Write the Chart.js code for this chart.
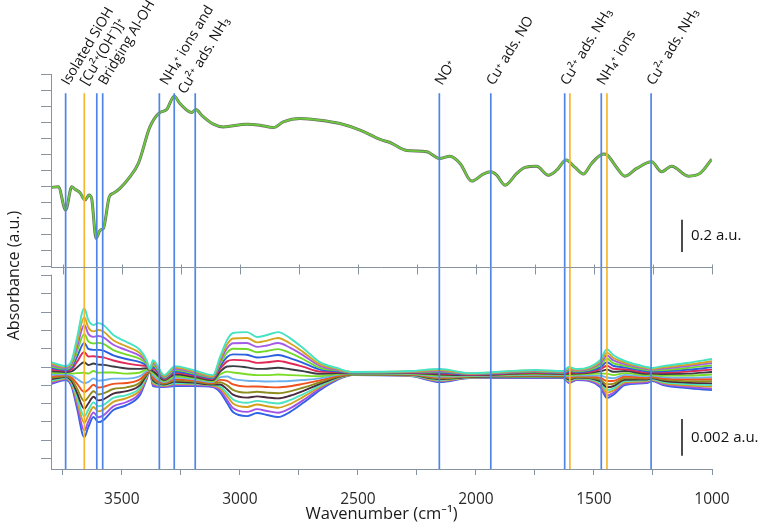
<!DOCTYPE html>
<html><head><meta charset="utf-8">
<script src="https://cdn.jsdelivr.net/npm/chart.js@4.4.1/dist/chart.umd.min.js"></script>
<style>html,body{margin:0;padding:0;background:#fff;}canvas{display:block}</style>
</head><body>
<canvas id="c" width="767" height="524" style="width:767px;height:524px"></canvas>
<script>
const FONT = "'Open Sans','Noto Sans','DejaVu Sans',sans-serif";

// ---------- tick values ----------
const xTickValues = [3750,3500,3250,3000,2750,2500,2250,2000,1750,1500,1250,1000];
const xLabelValues = [3500,3000,2500,2000,1500,1000];
const topTickValues = [0,0.1,0.2,0.3,0.4,0.5,0.6,0.7,0.8,0.9,1.0,1.1,1.2];
const botTickValues = [-5,-4,-3,-2,-1,0,1,2,3,4,5];

// ---------- top panel: absorbance spectrum (a.u.) ----------
const topWavenumbers = [3800,3769,3738,3712,3698,3677,3656,3639,3628,3609,3592,3578,3553,3536,3508,3466,3430,3381,3341,3310,3278,3254,3204,3186,3162,3112,3070,2971,2915,2858,2816,2745,2661,2576,2491,2406,2364,2293,2209,2155,2110,2067,2018,1969,1937,1912,1877,1827,1792,1743,1693,1658,1618,1580,1545,1510,1460,1444,1404,1369,1319,1256,1213,1171,1100,1051,1001];
const topAbsorbance = [0.495,0.499,0.354,0.499,0.483,0.462,0.416,0.447,0.426,0.178,0.229,0.240,0.437,0.458,0.489,0.561,0.644,0.871,0.958,0.979,1.062,1.017,0.961,0.979,0.944,0.888,0.871,0.888,0.882,0.867,0.902,0.923,0.913,0.892,0.851,0.793,0.774,0.724,0.717,0.675,0.689,0.644,0.534,0.578,0.592,0.571,0.509,0.582,0.619,0.627,0.571,0.602,0.665,0.619,0.578,0.644,0.702,0.696,0.619,0.565,0.613,0.654,0.592,0.627,0.565,0.582,0.670];

// ---------- bottom panel: difference spectra (10^-3 a.u.) ----------
const diffWavenumbers = [3800,3736,3712,3690,3659,3642,3620,3600,3578,3536,3480,3423,3395,3381,3368,3320,3275,3198,3114,3084,3054,3029,2970,2927,2885,2838,2788,2733,2661,2589,2521,2279,2152,2025,1750,1631,1606,1572,1474,1445,1419,1369,1276,1254,1207,1106,1000];
const diff01 = [0.27,0.05,0.38,1.58,3.22,2.57,2.30,2.40,2.30,1.75,1.37,0.93,0.38,-0.11,0.38,-0.44,0.05,-0.16,-0.44,0.55,1.48,1.86,1.91,1.64,1.75,1.91,1.58,1.04,0.27,-0.05,-0.27,-0.22,-0.11,-0.33,-0.16,-0.22,0.00,-0.11,0.38,0.98,0.66,0.33,0.00,-0.05,0.05,0.22,0.44];
const diff02 = [0.19,0.00,0.28,1.31,2.73,2.16,1.95,2.02,1.94,1.46,1.13,0.76,0.31,-0.12,0.28,-0.49,-0.03,-0.22,-0.49,0.42,1.24,1.56,1.59,1.35,1.44,1.59,1.30,0.83,0.16,-0.10,-0.28,-0.24,-0.16,-0.35,-0.19,-0.25,-0.06,-0.15,0.28,0.79,0.51,0.24,-0.06,-0.10,-0.02,0.12,0.32];
const diff03 = [0.11,-0.05,0.19,1.08,2.30,1.81,1.65,1.70,1.62,1.22,0.92,0.61,0.25,-0.12,0.20,-0.53,-0.09,-0.27,-0.53,0.30,1.03,1.30,1.31,1.10,1.18,1.31,1.06,0.65,0.07,-0.14,-0.29,-0.26,-0.20,-0.37,-0.22,-0.27,-0.11,-0.19,0.19,0.63,0.38,0.16,-0.11,-0.14,-0.08,0.04,0.22];
const diff04 = [0.03,-0.10,0.09,0.82,1.81,1.40,1.29,1.32,1.26,0.93,0.68,0.44,0.17,-0.13,0.10,-0.57,-0.17,-0.34,-0.57,0.17,0.79,1.00,0.99,0.81,0.88,0.98,0.77,0.44,-0.04,-0.18,-0.30,-0.27,-0.25,-0.38,-0.25,-0.30,-0.17,-0.23,0.09,0.45,0.22,0.07,-0.17,-0.19,-0.16,-0.05,0.10];
const diff05 = [-0.05,-0.16,-0.02,0.55,1.32,0.99,0.94,0.94,0.90,0.64,0.44,0.27,0.10,-0.14,0.00,-0.62,-0.24,-0.40,-0.62,0.03,0.55,0.69,0.67,0.52,0.57,0.66,0.49,0.23,-0.14,-0.23,-0.32,-0.29,-0.30,-0.40,-0.28,-0.32,-0.23,-0.27,-0.02,0.26,0.07,-0.02,-0.23,-0.24,-0.23,-0.15,-0.02];
const diff06 = [-0.14,-0.21,-0.12,0.28,0.82,0.58,0.59,0.56,0.53,0.36,0.20,0.09,0.03,-0.15,-0.10,-0.66,-0.32,-0.46,-0.66,-0.10,0.31,0.39,0.35,0.23,0.26,0.33,0.21,0.02,-0.25,-0.27,-0.33,-0.31,-0.35,-0.42,-0.31,-0.35,-0.30,-0.31,-0.12,0.07,-0.09,-0.12,-0.30,-0.29,-0.30,-0.25,-0.14];
const diff07 = [-0.23,-0.27,-0.24,-0.02,0.26,0.11,0.19,0.13,0.12,0.03,-0.08,-0.10,-0.06,-0.16,-0.22,-0.71,-0.41,-0.53,-0.71,-0.26,0.03,0.05,-0.02,-0.10,-0.09,-0.04,-0.12,-0.22,-0.37,-0.33,-0.34,-0.33,-0.41,-0.44,-0.34,-0.38,-0.37,-0.36,-0.24,-0.14,-0.26,-0.22,-0.37,-0.35,-0.38,-0.36,-0.27];
const diff08 = [-0.33,-0.33,-0.36,-0.33,-0.31,-0.36,-0.22,-0.31,-0.30,-0.30,-0.36,-0.30,-0.14,-0.17,-0.33,-0.77,-0.50,-0.60,-0.77,-0.41,-0.25,-0.30,-0.39,-0.44,-0.44,-0.41,-0.44,-0.47,-0.50,-0.38,-0.36,-0.36,-0.47,-0.47,-0.38,-0.41,-0.44,-0.41,-0.36,-0.36,-0.44,-0.33,-0.44,-0.41,-0.47,-0.47,-0.41];
const diff09 = [-0.43,-0.39,-0.47,-0.64,-0.87,-0.82,-0.62,-0.74,-0.72,-0.63,-0.63,-0.50,-0.22,-0.17,-0.44,-0.82,-0.58,-0.67,-0.82,-0.56,-0.52,-0.65,-0.75,-0.77,-0.79,-0.78,-0.76,-0.71,-0.62,-0.43,-0.37,-0.38,-0.52,-0.49,-0.42,-0.44,-0.50,-0.46,-0.47,-0.57,-0.61,-0.43,-0.50,-0.47,-0.55,-0.58,-0.55];
const diff10 = [-0.51,-0.44,-0.58,-0.90,-1.36,-1.23,-0.97,-1.12,-1.08,-0.92,-0.87,-0.67,-0.30,-0.18,-0.54,-0.86,-0.66,-0.73,-0.86,-0.70,-0.76,-0.95,-1.07,-1.06,-1.09,-1.11,-1.05,-0.92,-0.73,-0.48,-0.38,-0.40,-0.57,-0.51,-0.45,-0.47,-0.57,-0.50,-0.58,-0.76,-0.76,-0.52,-0.57,-0.52,-0.62,-0.67,-0.67];
const diff11 = [-0.59,-0.50,-0.68,-1.17,-1.86,-1.64,-1.32,-1.50,-1.44,-1.20,-1.11,-0.84,-0.37,-0.19,-0.64,-0.91,-0.74,-0.79,-0.91,-0.83,-1.00,-1.25,-1.40,-1.35,-1.40,-1.43,-1.33,-1.13,-0.83,-0.53,-0.39,-0.41,-0.62,-0.52,-0.48,-0.49,-0.63,-0.54,-0.68,-0.94,-0.92,-0.61,-0.63,-0.57,-0.69,-0.77,-0.78];
const diff12 = [-0.67,-0.54,-0.77,-1.40,-2.28,-1.99,-1.62,-1.82,-1.76,-1.45,-1.32,-0.99,-0.43,-0.20,-0.73,-0.95,-0.80,-0.85,-0.95,-0.95,-1.21,-1.51,-1.67,-1.60,-1.66,-1.71,-1.57,-1.31,-0.92,-0.57,-0.40,-0.43,-0.66,-0.54,-0.50,-0.52,-0.68,-0.58,-0.77,-1.10,-1.05,-0.69,-0.68,-0.61,-0.75,-0.85,-0.89];
const diff13 = [-0.74,-0.59,-0.86,-1.63,-2.70,-2.34,-1.93,-2.14,-2.07,-1.69,-1.53,-1.14,-0.49,-0.20,-0.81,-0.99,-0.87,-0.90,-0.99,-1.06,-1.42,-1.77,-1.95,-1.85,-1.92,-1.99,-1.81,-1.49,-1.02,-0.60,-0.41,-0.45,-0.71,-0.56,-0.53,-0.54,-0.73,-0.61,-0.86,-1.26,-1.18,-0.77,-0.73,-0.65,-0.82,-0.93,-0.99];
const diff14 = [-0.80,-0.63,-0.93,-1.82,-3.06,-2.64,-2.18,-2.42,-2.33,-1.90,-1.70,-1.26,-0.55,-0.21,-0.88,-1.02,-0.92,-0.94,-1.02,-1.16,-1.59,-1.99,-2.18,-2.05,-2.14,-2.22,-2.02,-1.64,-1.09,-0.64,-0.42,-0.46,-0.74,-0.57,-0.55,-0.56,-0.77,-0.64,-0.93,-1.40,-1.29,-0.84,-0.77,-0.69,-0.87,-1.00,-1.07];
const diff15 = [-0.87,-0.67,-1.02,-2.05,-3.48,-2.99,-2.48,-2.74,-2.64,-2.15,-1.91,-1.41,-0.61,-0.21,-0.97,-1.06,-0.99,-1.00,-1.06,-1.27,-1.80,-2.24,-2.45,-2.30,-2.40,-2.50,-2.26,-1.82,-1.18,-0.68,-0.43,-0.48,-0.78,-0.59,-0.58,-0.58,-0.83,-0.68,-1.02,-1.56,-1.42,-0.92,-0.83,-0.73,-0.93,-1.08,-1.18];
const diff16 = [-0.93,-0.71,-1.09,-2.24,-3.83,-3.28,-2.73,-3.01,-2.90,-2.35,-2.08,-1.53,-0.66,-0.22,-1.04,-1.09,-1.04,-1.04,-1.09,-1.37,-1.97,-2.46,-2.68,-2.51,-2.62,-2.73,-2.46,-1.97,-1.26,-0.71,-0.44,-0.49,-0.82,-0.60,-0.60,-0.60,-0.87,-0.71,-1.09,-1.69,-1.53,-0.98,-0.87,-0.77,-0.98,-1.15,-1.26];
const diffSeries = [diff01,diff02,diff03,diff04,diff05,diff06,diff07,diff08,diff09,diff10,diff11,diff12,diff13,diff14,diff15,diff16];
const diffColors = ['#45e2c4','#d6a51f','#a45be6','#72d82a','#2c5fe0','#df2a55','#3a3d44','#7bdc26','#6db2ef','#ef521f','#8e8b1f','#4b2b3e','#4be4c2','#d3a01d','#a153e6','#2f63e5'];

// ---------- band assignments ----------
const bandWavenumbers = [3738,3659,3606,3581,3341,3278,3189,2155,1937,1624,1602,1469,1445,1258];
const bandKinds = ['b','o','b','b','b','b','b','b','b','b','o','b','o','b'];
const bandLabels = ['Isolated SiOH','[Cu²⁺(OH⁻)]⁺','Bridging Al-OH','NH₄⁺ ions and','Cu²⁺ ads. NH₃','NO⁺','Cu⁺ ads. NO','Cu²⁺ ads. NH₃','NH₄⁺ ions','Cu²⁺ ads. NH₃'];
const bandLabelWavenumbers = [3738,3659,3581,3320,3320,2155,1937,1624,1469,1258];
const bandLabelRow = [0,0,0,0,1,0,0,0,0,0];

const BLUE = '#4f86e6', ORANGE = '#f6b631', AXIS = '#8794a0';
const LABEL_ANGLE = 59 * Math.PI / 180;

Chart.defaults.font.family = FONT;

const datasets = [];
datasets.push({ label:'spectrum', data: topWavenumbers.map((w,i)=>({x:w,y:topAbsorbance[i]})), yAxisID:'yTop',
  borderColor:'#6cc83c', borderWidth:1.9, order:0 });
datasets.push({ label:'spectrum-outline', data: topWavenumbers.map((w,i)=>({x:w,y:topAbsorbance[i]})), yAxisID:'yTop',
  borderColor:'#666666', borderWidth:3.0, order:1 });
diffSeries.forEach((vals,k)=>{
  datasets.push({ label:'diff'+(k+1), data: diffWavenumbers.map((w,i)=>({x:w,y:vals[i]})), yAxisID:'yBot',
    borderColor: diffColors[k], borderWidth:1.9, order:2 });
});

const overlay = {
  id:'overlay',
  afterDatasetsDraw(chart){
    const {ctx, chartArea:ca, scales} = chart;
    const x = scales.x, yT = scales.yTop, yB = scales.yBot;
    ctx.save();
    // band lines
    const yStart = yT.getPixelForValue(1.08);
    bandWavenumbers.forEach((w,i)=>{
      const px = x.getPixelForValue(w);
      ctx.strokeStyle = bandKinds[i]==='o' ? ORANGE : BLUE;
      ctx.lineWidth = 1.7;
      ctx.beginPath(); ctx.moveTo(px, yStart); ctx.lineTo(px, ca.bottom); ctx.stroke();
    });
    // left axis lines (two panels)
    ctx.strokeStyle = AXIS; ctx.lineWidth = 1;
    const lx = Math.round(ca.left) + 0.5;
    ctx.beginPath(); ctx.moveTo(lx, yT.getPixelForValue(1.2)); ctx.lineTo(lx, yT.getPixelForValue(0)); ctx.stroke();
    ctx.beginPath(); ctx.moveTo(lx, yB.getPixelForValue(5.05)); ctx.lineTo(lx, ca.bottom); ctx.stroke();
    // baseline of top panel with ticks
    const y0 = Math.round(yT.getPixelForValue(0)) + 0.5;
    ctx.beginPath(); ctx.moveTo(ca.left, y0); ctx.lineTo(ca.right, y0); ctx.stroke();
    xTickValues.forEach(v=>{
      const px = Math.round(x.getPixelForValue(v)) + 0.5;
      ctx.beginPath(); ctx.moveTo(px, y0-3); ctx.lineTo(px, y0+7); ctx.stroke();
    });
    // scale bars
    const bx = ca.right - 30;
    ctx.strokeStyle = '#111'; ctx.lineWidth = 1.5; ctx.fillStyle = '#111';
    ctx.font = '15px ' + FONT; ctx.textBaseline = 'middle'; ctx.textAlign = 'left';
    let a = yT.getPixelForValue(0.293), b = yT.getPixelForValue(0.093);
    ctx.beginPath(); ctx.moveTo(bx, a); ctx.lineTo(bx, b); ctx.stroke();
    ctx.fillText('0.2 a.u.', bx + 9, (a+b)/2);
    a = yB.getPixelForValue(-2.84); b = yB.getPixelForValue(-4.84);
    ctx.beginPath(); ctx.moveTo(bx, a); ctx.lineTo(bx, b); ctx.stroke();
    ctx.fillText('0.002 a.u.', bx + 9, (a+b)/2);
    // y title
    ctx.save();
    ctx.translate(14, (ca.top + ca.bottom)/2 + 4);
    ctx.rotate(-Math.PI/2);
    ctx.textAlign = 'center'; ctx.textBaseline = 'middle';
    ctx.font = '16px ' + FONT; ctx.fillStyle = '#1a1a1a';
    ctx.fillText('Absorbance (a.u.)', 0, 0);
    ctx.restore();
    // band labels
    ctx.font = '14px ' + FONT; ctx.fillStyle = '#111'; ctx.textBaseline = 'alphabetic'; ctx.textAlign = 'left';
    bandLabels.forEach((t,i)=>{
      let px = x.getPixelForValue(bandLabelWavenumbers[i]) + 3;
      let py = 86;
      if (bandLabelRow[i] === 1) { px += 21*Math.sin(LABEL_ANGLE); py += 21*Math.cos(LABEL_ANGLE) - 2; }
      ctx.save(); ctx.translate(px, py); ctx.rotate(-LABEL_ANGLE); ctx.fillText(t, 0, 0); ctx.restore();
    });
    ctx.restore();
  }
};

new Chart(document.getElementById('c'), {
  type:'line',
  data:{ datasets },
  options:{
    responsive:false, animation:false, devicePixelRatio:1,
    layout:{ padding:{ top:74, left:41, right:55, bottom:0 } },
    elements:{ point:{ radius:0 }, line:{ cubicInterpolationMode:'monotone' } },
    plugins:{ legend:{display:false}, tooltip:{enabled:false} },
    scales:{
      x:{ type:'linear', reverse:true, min:1000, max:3800, position:'bottom',
        afterBuildTicks:s=>{ s.ticks = xTickValues.map(v=>({value:v})); },
        afterFit:s=>{ s.height = 55; },
        ticks:{ autoSkip:false, maxRotation:0, padding:15, color:'#2a2a2a', font:{size:15.5},
          callback:v=> xLabelValues.includes(v) ? String(v) : '' },
        grid:{ drawOnChartArea:false, drawTicks:true, tickLength:6, color:AXIS },
        border:{ color:AXIS, width:1 },
        title:{ display:true, text:'Wavenumber (cm⁻¹)', color:'#1a1a1a', font:{size:16.5}, padding:{top:0,bottom:0} } },
      yBot:{ type:'linear', position:'left', stack:'panels', stackWeight:1, weight:0, min:-5.57, max:5.22,
        afterBuildTicks:s=>{ s.ticks = botTickValues.map(v=>({value:v})); },
        ticks:{ display:false },
        grid:{ drawOnChartArea:false, drawTicks:true, tickLength:10, color:AXIS },
        border:{ display:false } },
      yTop:{ type:'linear', position:'left', stack:'panels', stackWeight:1, weight:1, min:-0.028, max:1.2,
        afterBuildTicks:s=>{ s.ticks = topTickValues.map(v=>({value:v})); },
        ticks:{ display:false },
        grid:{ drawOnChartArea:false, drawTicks:true, tickLength:10, color:AXIS },
        border:{ display:false } }
    }
  },
  plugins:[overlay]
});
</script></body></html>
